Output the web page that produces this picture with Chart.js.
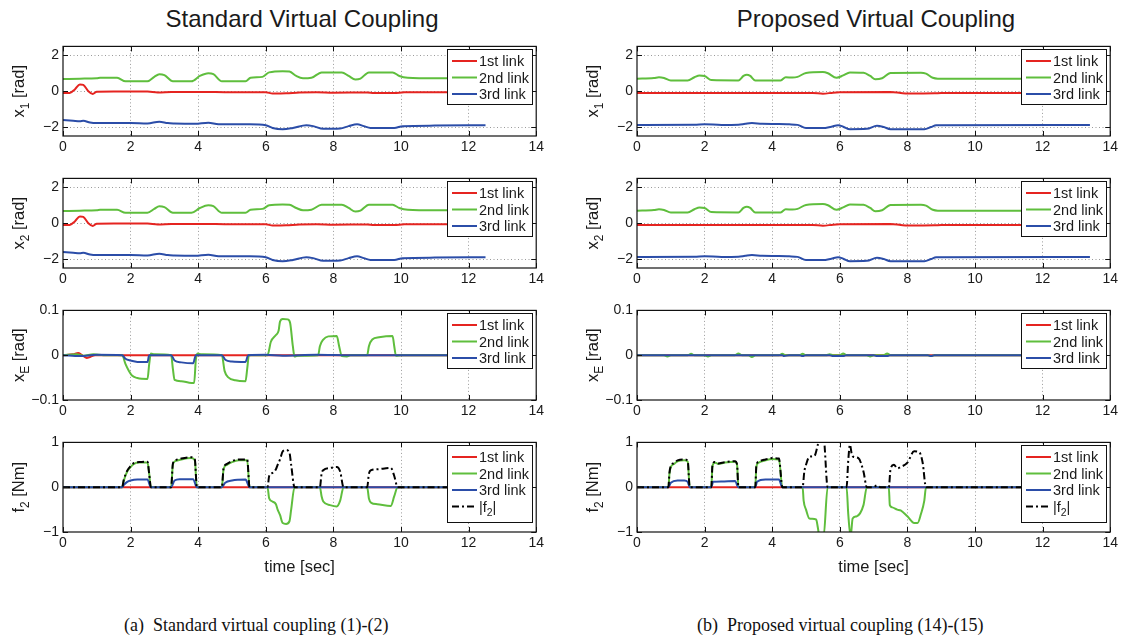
<!DOCTYPE html>
<html>
<head>
<meta charset="utf-8">
<script src="https://cdn.jsdelivr.net/npm/chart.js@4.4.0/dist/chart.umd.min.js"></script>
<style>
body { margin:0; background:#fff; width:1127px; height:639px; position:relative; overflow:hidden; font-family:'Liberation Sans', Arial, sans-serif; }
canvas { position:absolute; }
.title { position:absolute; font-size:24px; color:#1a1a1a; transform:translateX(-50%); white-space:nowrap; }
.cap { position:absolute; font-family:'Liberation Serif', 'Times New Roman', serif; font-size:18px; color:#111; white-space:pre; }
</style>
</head>
<body>
<div class="title" style="left:302px;top:5px">Standard Virtual Coupling</div>
<div class="title" style="left:876px;top:5px">Proposed Virtual Coupling</div>
<div class="cap" style="left:124px;top:615px">(a)  Standard virtual coupling (1)-(2)</div>
<div class="cap" style="left:697px;top:615px">(b)  Proposed virtual coupling (14)-(15)</div>
<script>
// ---- data (time [sec], value) ----
var xTicks = [0, 2, 4, 6, 8, 10, 12, 14];
var linkNames = ['1st link', '2nd link', '3rd link', '|f_2|'];
var linkColors = ['#e52420', '#5fbe3d', '#2b4da8', '#000000'];
var yLabels = ['x_1 [rad]', 'x_2 [rad]', 'x_E [rad]', 'f_2 [Nm]'];
var yRanges = [[-2.5, 2.5], [-2.5, 2.5], [-0.1, 0.1], [-1, 1]];
var yTicks = [[-2, 0, 2], [-2, 0, 2], [-0.1, 0, 0.1], [-1, 0, 1]];

// standard virtual coupling
var stdX1Link1 = [[0,-0.1],[0.2,-0.1],[0.35,0.1],[0.5,0.38],[0.6,0.35],[0.75,0.0],[0.88,-0.15],[1.0,-0.03],[1.5,-0.02],[2.5,-0.02],[2.8,-0.07],[3.2,-0.05],[4.0,-0.04],[5.0,-0.06],[6.0,-0.06],[6.2,-0.13],[6.6,-0.12],[7.0,-0.07],[7.5,-0.06],[8.0,-0.08],[9.0,-0.07],[9.2,-0.1],[9.8,-0.1],[10.1,-0.06],[12.5,-0.06]];
var stdX1Link2 = [[0,0.68],[0.5,0.7],[1.0,0.72],[1.1,0.75],[1.6,0.75],[1.85,0.55],[2.5,0.55],[2.7,0.8],[2.85,0.95],[3.0,0.9],[3.25,0.55],[3.8,0.55],[4.05,0.85],[4.3,1.0],[4.45,0.95],[4.7,0.55],[5.4,0.55],[5.55,0.75],[5.9,0.8],[6.1,1.05],[6.5,1.12],[6.7,1.1],[6.9,0.85],[7.1,0.72],[7.35,0.75],[7.65,1.05],[8.25,1.05],[8.45,0.85],[8.65,0.65],[8.8,0.7],[9.05,1.05],[9.75,1.05],[9.95,0.85],[10.2,0.75],[11,0.72],[12.5,0.72]];
var stdX1Link3 = [[0,-1.6],[0.3,-1.65],[0.5,-1.68],[0.6,-1.65],[0.8,-1.75],[1.0,-1.78],[1.5,-1.78],[2.0,-1.77],[2.5,-1.8],[2.85,-1.7],[3.1,-1.78],[3.3,-1.8],[3.9,-1.82],[4.3,-1.76],[4.6,-1.84],[5.5,-1.85],[6.0,-1.9],[6.2,-2.05],[6.5,-2.12],[6.8,-2.05],[7.2,-1.9],[7.4,-1.95],[7.7,-2.1],[8.2,-2.08],[8.45,-1.95],[8.7,-1.85],[8.9,-1.95],[9.1,-2.05],[9.8,-2.05],[10.05,-1.95],[11,-1.92],[12.5,-1.9]];

var stdX2Link1 = [[0,-0.1],[0.2,-0.1],[0.35,0.1],[0.5,0.38],[0.6,0.35],[0.75,0.0],[0.88,-0.15],[1.0,-0.03],[1.5,-0.02],[2.5,-0.02],[2.8,-0.07],[3.2,-0.05],[4.0,-0.04],[5.0,-0.06],[6.0,-0.06],[6.2,-0.13],[6.6,-0.12],[7.0,-0.07],[7.5,-0.06],[8.0,-0.08],[9.0,-0.07],[9.2,-0.1],[9.8,-0.1],[10.1,-0.06],[12.5,-0.06]];
var stdX2Link2 = [[0,0.68],[0.5,0.7],[1.0,0.72],[1.1,0.75],[1.6,0.75],[1.85,0.58],[2.5,0.58],[2.7,0.8],[2.85,0.95],[3.0,0.9],[3.25,0.58],[3.8,0.58],[4.05,0.85],[4.3,1.0],[4.45,0.95],[4.7,0.58],[5.4,0.58],[5.55,0.75],[5.9,0.8],[6.1,1.0],[6.5,1.05],[6.7,1.03],[6.9,0.85],[7.1,0.72],[7.35,0.75],[7.65,1.03],[8.25,1.03],[8.45,0.85],[8.65,0.65],[8.8,0.7],[9.05,1.03],[9.75,1.03],[9.95,0.85],[10.2,0.75],[11,0.72],[12.5,0.72]];
var stdX2Link3 = [[0,-1.6],[0.3,-1.65],[0.5,-1.68],[0.6,-1.65],[0.8,-1.75],[1.0,-1.78],[1.5,-1.78],[2.0,-1.77],[2.5,-1.8],[2.85,-1.7],[3.1,-1.78],[3.3,-1.8],[3.9,-1.82],[4.3,-1.76],[4.6,-1.84],[5.5,-1.85],[6.0,-1.9],[6.2,-2.05],[6.5,-2.12],[6.8,-2.05],[7.2,-1.9],[7.4,-1.95],[7.7,-2.1],[8.2,-2.08],[8.45,-1.95],[8.7,-1.85],[8.9,-1.95],[9.1,-2.05],[9.8,-2.05],[10.05,-1.95],[11,-1.92],[12.5,-1.9]];

var stdXELink1 = [[0,0],[0.3,0.002],[0.45,0.005],[0.55,0.001],[0.7,-0.006],[0.8,-0.004],[0.95,0],[12.5,0]];
var stdXELink2 = [[0,0],[0.4,0.002],[0.6,-0.001],[0.9,0.002],[1.2,0],[1.75,0],[1.85,-0.02],[1.95,-0.035],[2.05,-0.046],[2.2,-0.051],[2.5,-0.053],[2.55,-0.02],[2.6,0.004],[2.7,0.002],[3.2,0],[3.25,-0.03],[3.3,-0.055],[3.5,-0.058],[3.8,-0.062],[3.88,-0.062],[3.93,-0.01],[3.98,0.004],[4.1,0.002],[4.7,0],[4.78,-0.035],[4.9,-0.05],[5.1,-0.056],[5.4,-0.058],[5.45,-0.03],[5.5,0],[6.05,0],[6.15,0.03],[6.3,0.045],[6.38,0.055],[6.42,0.075],[6.5,0.081],[6.65,0.08],[6.72,0.072],[6.8,0.02],[6.85,-0.003],[6.95,-0.001],[7.55,0],[7.6,0.02],[7.7,0.035],[7.85,0.042],[8.1,0.043],[8.17,0.02],[8.25,-0.002],[8.4,-0.003],[8.5,0],[9.0,0],[9.05,0.02],[9.15,0.035],[9.35,0.04],[9.75,0.043],[9.8,0.02],[9.85,-0.001],[10,0],[12.5,0]];
var stdXELink3 = [[0,0],[0.5,-0.002],[1.0,0.001],[1.75,0],[1.85,-0.008],[2.0,-0.012],[2.2,-0.015],[2.5,-0.015],[2.55,0],[3.2,0],[3.3,-0.012],[3.5,-0.016],[3.85,-0.018],[3.93,0],[4.7,0],[4.8,-0.01],[5.0,-0.014],[5.4,-0.015],[5.48,0],[6.0,0.001],[6.5,-0.001],[7.5,0.001],[8.5,0],[12.5,0]];

var stdF2Link1 = [[0,0],[12.5,0]];
var stdF2Link2 = [[0,0],[1.75,0],[1.8,0.15],[1.9,0.35],[2.0,0.45],[2.1,0.52],[2.25,0.55],[2.5,0.55],[2.55,0.3],[2.6,0],[3.2,0],[3.25,0.5],[3.32,0.58],[3.5,0.62],[3.8,0.65],[3.9,0.6],[3.96,0],[4.7,0],[4.75,0.4],[4.85,0.5],[5.0,0.56],[5.2,0.6],[5.45,0.6],[5.52,0],[6.05,0],[6.1,-0.25],[6.2,-0.32],[6.3,-0.38],[6.35,-0.5],[6.42,-0.62],[6.5,-0.8],[6.6,-0.82],[6.7,-0.76],[6.75,-0.5],[6.85,0],[7.6,0],[7.65,-0.2],[7.7,-0.32],[7.9,-0.4],[8.1,-0.43],[8.2,-0.3],[8.3,0],[9.0,0],[9.05,-0.25],[9.12,-0.35],[9.3,-0.38],[9.7,-0.42],[9.8,-0.2],[9.9,0],[12.5,0]];
var stdF2Link3 = [[0,0],[1.75,0],[1.8,0.05],[1.9,0.12],[2.0,0.15],[2.2,0.17],[2.5,0.17],[2.6,0],[3.2,0],[3.3,0.15],[3.45,0.18],[3.85,0.18],[3.96,0],[4.7,0],[4.8,0.1],[5.0,0.15],[5.4,0.17],[5.52,0],[12.5,0]];
var stdF2Norm = [[0,0],[1.75,0],[1.8,0.17],[1.9,0.37],[2.0,0.47],[2.1,0.54],[2.25,0.56],[2.5,0.57],[2.55,0.3],[2.6,0],[3.2,0],[3.25,0.52],[3.32,0.6],[3.5,0.64],[3.8,0.67],[3.9,0.62],[3.96,0],[4.7,0],[4.75,0.42],[4.85,0.52],[5.0,0.58],[5.2,0.62],[5.45,0.62],[5.52,0],[6.05,0],[6.1,0.25],[6.2,0.32],[6.3,0.4],[6.35,0.5],[6.42,0.62],[6.5,0.8],[6.6,0.83],[6.7,0.77],[6.75,0.5],[6.85,0],[7.6,0],[7.65,0.3],[7.7,0.38],[7.9,0.43],[8.1,0.45],[8.2,0.35],[8.3,0],[9.0,0],[9.05,0.3],[9.12,0.38],[9.3,0.4],[9.7,0.43],[9.8,0.25],[9.9,0],[12.5,0]];

// proposed virtual coupling
var prpX1Link1 = [[0,-0.1],[5.2,-0.1],[5.5,-0.14],[5.8,-0.08],[6.0,-0.06],[7.5,-0.05],[7.8,-0.1],[8.0,-0.13],[8.8,-0.12],[9.0,-0.1],[13.4,-0.1]];
var prpX1Link2 = [[0,0.7],[0.5,0.73],[0.65,0.78],[0.8,0.74],[1.0,0.6],[1.5,0.6],[1.7,0.78],[1.85,0.88],[2.0,0.85],[2.2,0.62],[3.0,0.6],[3.15,0.85],[3.25,0.92],[3.35,0.85],[3.5,0.6],[4.25,0.6],[4.4,0.78],[4.6,0.76],[4.75,0.8],[5.0,1.02],[5.5,1.07],[5.65,1.0],[5.9,0.75],[6.1,0.88],[6.3,1.05],[6.7,1.03],[6.9,0.85],[7.05,0.66],[7.25,0.72],[7.5,1.02],[8.4,1.03],[8.55,0.98],[8.75,0.75],[8.9,0.7],[13.4,0.7]];
var prpX1Link3 = [[0,-1.88],[1.7,-1.87],[2.0,-1.84],[2.5,-1.88],[3.0,-1.87],[3.2,-1.82],[3.4,-1.78],[3.7,-1.82],[4.2,-1.83],[4.5,-1.85],[4.75,-1.88],[5.0,-2.06],[5.5,-2.06],[5.75,-1.98],[5.95,-1.9],[6.1,-1.98],[6.3,-2.12],[6.8,-2.1],[7.1,-1.93],[7.3,-2.0],[7.5,-2.12],[8.5,-2.12],[8.7,-2.0],[8.85,-1.9],[13.4,-1.88]];

var prpX2Link1 = [[0,-0.1],[5.2,-0.1],[5.5,-0.14],[5.8,-0.08],[6.0,-0.06],[7.5,-0.05],[7.8,-0.1],[8.0,-0.13],[8.8,-0.12],[9.0,-0.1],[13.4,-0.1]];
var prpX2Link2 = [[0,0.7],[0.5,0.73],[0.65,0.78],[0.8,0.74],[1.0,0.6],[1.5,0.6],[1.7,0.78],[1.85,0.88],[2.0,0.85],[2.2,0.62],[3.0,0.6],[3.15,0.85],[3.25,0.92],[3.35,0.85],[3.5,0.6],[4.25,0.6],[4.4,0.78],[4.6,0.76],[4.75,0.8],[5.0,1.02],[5.5,1.07],[5.65,1.0],[5.9,0.75],[6.1,0.88],[6.3,1.05],[6.7,1.03],[6.9,0.85],[7.05,0.66],[7.25,0.72],[7.5,1.02],[8.4,1.03],[8.55,0.98],[8.75,0.75],[8.9,0.7],[13.4,0.7]];
var prpX2Link3 = [[0,-1.88],[1.7,-1.87],[2.0,-1.84],[2.5,-1.88],[3.0,-1.87],[3.2,-1.82],[3.4,-1.78],[3.7,-1.82],[4.2,-1.83],[4.5,-1.85],[4.75,-1.88],[5.0,-2.06],[5.5,-2.06],[5.75,-1.98],[5.95,-1.9],[6.1,-1.98],[6.3,-2.12],[6.8,-2.1],[7.1,-1.93],[7.3,-2.0],[7.5,-2.12],[8.5,-2.12],[8.7,-2.0],[8.85,-1.9],[13.4,-1.88]];

var prpXELink1 = [[0,0],[13.4,0]];
var prpXELink2 = [[0,0],[0.8,0],[0.9,-0.003],[1.0,0],[1.5,0],[1.6,0.003],[1.7,0],[2.0,0],[2.1,-0.003],[2.2,0],[2.9,0],[3.0,0.004],[3.1,0],[3.3,0],[3.4,-0.004],[3.5,0],[4.2,0],[4.3,0.003],[4.4,0],[4.8,0],[4.9,0.003],[5.0,0],[5.6,0],[5.7,0.002],[5.8,0],[6.0,0],[6.1,0.004],[6.2,0],[6.8,0],[6.9,-0.003],[7.0,0],[7.3,0],[7.4,0.004],[7.5,0],[8.6,0],[8.7,-0.002],[8.8,0],[13.4,0]];
var prpXELink3 = [[0,0],[4.3,0],[4.35,-0.002],[4.5,0],[4.8,0],[4.9,-0.002],[5.0,0],[5.7,0],[5.8,-0.002],[6.1,-0.002],[6.2,0],[7.0,0],[7.1,-0.002],[7.4,-0.002],[7.5,0],[8.6,0],[8.7,-0.002],[8.8,0],[13.4,0]];

var prpF2Link1 = [[0,0],[13.4,0]];
var prpF2Link2 = [[0,0],[0.93,0],[0.96,0.3],[1.0,0.45],[1.1,0.52],[1.2,0.58],[1.4,0.6],[1.5,0.57],[1.56,0],[2.2,0],[2.23,0.45],[2.3,0.55],[2.4,0.52],[2.6,0.55],[2.9,0.57],[2.96,0.5],[3.0,0],[3.5,0],[3.53,0.45],[3.6,0.55],[3.8,0.6],[4.0,0.63],[4.2,0.62],[4.3,0],[4.9,0],[4.93,-0.3],[5.0,-0.5],[5.1,-0.7],[5.3,-0.72],[5.35,-0.9],[5.4,-1.1],[5.52,-1.1],[5.64,0],[6.2,0],[6.25,-0.6],[6.32,-1.1],[6.38,-0.7],[6.5,-0.65],[6.7,-0.4],[6.8,0],[7.45,0],[7.48,-0.4],[7.55,-0.45],[7.7,-0.5],[7.8,-0.52],[8.0,-0.65],[8.2,-0.8],[8.3,-0.8],[8.4,-0.6],[8.5,-0.3],[8.55,0],[13.4,0]];
var prpF2Link3 = [[0,0],[0.93,0],[1.0,0.1],[1.2,0.15],[1.4,0.15],[1.5,0.12],[1.56,0],[2.2,0],[2.25,0.12],[2.5,0.13],[2.9,0.14],[3.0,0],[3.5,0],[3.55,0.12],[3.8,0.17],[4.2,0.17],[4.3,0],[13.4,0]];
var prpF2Norm = [[0,0],[0.93,0],[0.96,0.32],[1.0,0.47],[1.1,0.54],[1.2,0.6],[1.4,0.62],[1.5,0.59],[1.56,0],[2.2,0],[2.23,0.47],[2.3,0.56],[2.4,0.53],[2.6,0.56],[2.9,0.58],[2.96,0.51],[3.0,0],[3.5,0],[3.53,0.47],[3.6,0.57],[3.8,0.62],[4.0,0.65],[4.2,0.64],[4.3,0],[4.9,0],[4.95,0.35],[5.0,0.5],[5.1,0.68],[5.25,0.7],[5.35,0.95],[5.4,1.1],[5.52,1.1],[5.64,0],[6.2,0],[6.25,0.6],[6.3,0.95],[6.35,0.75],[6.4,0.68],[6.55,0.65],[6.7,0.35],[6.8,0],[7.0,0],[7.1,0.04],[7.2,0],[7.45,0],[7.5,0.4],[7.6,0.5],[7.7,0.42],[7.8,0.45],[8.0,0.55],[8.2,0.8],[8.35,0.78],[8.45,0.55],[8.55,0],[13.4,0]];

var panels = [
  [[stdX1Link1, stdX1Link2, stdX1Link3], [prpX1Link1, prpX1Link2, prpX1Link3]],
  [[stdX2Link1, stdX2Link2, stdX2Link3], [prpX2Link1, prpX2Link2, prpX2Link3]],
  [[stdXELink1, stdXELink2, stdXELink3], [prpXELink1, prpXELink2, prpXELink3]],
  [[stdF2Link1, stdF2Link2, stdF2Link3, stdF2Norm], [prpF2Link1, prpF2Link2, prpF2Link3, prpF2Norm]]
];

// ---- layout ----
var FONT = "'Liberation Sans', Arial, sans-serif";
var colLeft = [63, 637];
var rowTop = [40, 172, 304, 436];
var boxW = 478, boxH = 96, padL = 62, padT = 6, padR = 6;

// "x_1 [rad]" -> pieces with subscript
function splitSub(s) {
  var m = s.match(/^(.*?)_(.)(.*)$/);
  if (!m) return [{t: s}];
  return [{t: m[1]}, {t: m[2], sub: true}, {t: m[3]}];
}

function partsWidth(ctx, parts, size) {
  var w = 0;
  parts.forEach(function(p) {
    ctx.font = (p.sub ? size * 0.72 : size) + 'px ' + FONT;
    w += ctx.measureText(p.t).width;
  });
  return w;
}

function drawParts(ctx, parts, x, y, size) {
  var cx = x;
  parts.forEach(function(p) {
    ctx.font = (p.sub ? size * 0.72 : size) + 'px ' + FONT;
    ctx.fillText(p.t, cx, y + (p.sub ? size * 0.32 : 0));
    cx += ctx.measureText(p.t).width;
  });
}

var axesBox = {
  id: 'axesBox',
  afterDatasetsDraw: function(chart, args, opts) {
    var ctx = chart.ctx, a = chart.chartArea;
    var xs = chart.scales.x, ys = chart.scales.y;
    ctx.save();
    ctx.strokeStyle = '#111';
    ctx.lineWidth = 1.2;
    ctx.setLineDash([]);
    ctx.strokeRect(a.left, a.top, a.right - a.left, a.bottom - a.top);
    ctx.lineWidth = 1;
    ctx.beginPath();
    xTicks.forEach(function(v) {
      var px = Math.round(xs.getPixelForValue(v)) + 0.5;
      ctx.moveTo(px, a.bottom); ctx.lineTo(px, a.bottom - 5);
      ctx.moveTo(px, a.top); ctx.lineTo(px, a.top + 5);
    });
    opts.yTicks.forEach(function(v) {
      var py = Math.round(ys.getPixelForValue(v)) + 0.5;
      ctx.moveTo(a.left, py); ctx.lineTo(a.left + 5, py);
      ctx.moveTo(a.right, py); ctx.lineTo(a.right - 5, py);
    });
    ctx.stroke();

    // legend, inside the top right corner
    var dsets = chart.data.datasets;
    var n = dsets.length;
    var lw = 85, lh = n === 4 ? 77 : 55;
    var lx = Math.round(a.right - 4 - lw), ly = Math.round(a.top + 3);
    ctx.fillStyle = '#fff';
    ctx.fillRect(lx, ly, lw, lh);
    ctx.strokeStyle = '#111';
    ctx.lineWidth = 1;
    ctx.strokeRect(lx + 0.5, ly + 0.5, lw, lh);
    dsets.forEach(function(ds, i) {
      var cy = ly + 12 + i * 16.5;
      ctx.strokeStyle = ds.borderColor;
      ctx.lineWidth = 2;
      ctx.setLineDash(ds.borderDash || []);
      ctx.beginPath();
      ctx.moveTo(lx + 5, cy); ctx.lineTo(lx + 30, cy);
      ctx.stroke();
      ctx.setLineDash([]);
      ctx.fillStyle = '#1a1a1a';
      ctx.textBaseline = 'alphabetic';
      ctx.textAlign = 'left';
      drawParts(ctx, splitSub(ds.label), lx + 32, cy + 5, 14.5);
    });

    // y axis title, rotated, with subscript
    var parts = splitSub(opts.yTitle);
    var w = partsWidth(ctx, parts, 16.5);
    ctx.translate(a.left - 43, (a.top + a.bottom) / 2);
    ctx.rotate(-Math.PI / 2);
    ctx.fillStyle = '#1a1a1a';
    drawParts(ctx, parts, -w / 2, 4, 16.5);
    ctx.restore();
  }
};

function makePanel(row, col) {
  var series = panels[row][col];
  var last = row === 3;
  var cv = document.createElement('canvas');
  var W = padL + boxW + padR;
  var H = padT + boxH + (last ? 45 : 24);
  cv.width = W; cv.height = H;
  cv.style.left = (colLeft[col] - padL) + 'px';
  cv.style.top = (rowTop[row] - padT) + 'px';
  document.body.appendChild(cv);

  var dataSets = series.map(function(pts, i) {
    return {
      label: linkNames[i],
      data: pts.map(function(p) { return {x: p[0], y: p[1]}; }),
      borderColor: linkColors[i],
      borderWidth: 2,
      borderDash: i === 3 ? [7, 3, 2, 3] : undefined,
      pointRadius: 0,
      cubicInterpolationMode: 'monotone',
      order: 4 - i
    };
  });

  var edge = function(c) {
    var v = c.tick.value, s = c.scale;
    return (Math.abs(v - s.min) < 1e-9 || Math.abs(v - s.max) < 1e-9) ? 'rgba(0,0,0,0)' : '#9a9a9a';
  };

  new Chart(cv, {
    type: 'line',
    data: {datasets: dataSets},
    options: {
      responsive: false,
      animation: false,
      devicePixelRatio: 1,
      layout: {padding: {top: padT, right: padR, left: 0, bottom: 0}},
      plugins: {
        legend: {display: false},
        tooltip: {enabled: false},
        axesBox: {yTicks: yTicks[row], yTitle: yLabels[row]}
      },
      scales: {
        x: {
          type: 'linear', min: 0, max: 14,
          afterBuildTicks: function(s) { s.ticks = xTicks.map(function(v) { return {value: v}; }); },
          afterFit: function(s) { s.height = last ? 45 : 24; },
          grid: {drawTicks: false, color: edge, lineWidth: 1},
          border: {display: false, dash: [1, 2.5]},
          ticks: {color: '#1a1a1a', font: {family: FONT, size: 14}, padding: 3, maxRotation: 0, autoSkip: false},
          title: {display: last, text: 'time [sec]', color: '#1a1a1a', font: {family: FONT, size: 16.5, lineHeight: 1.2}, padding: {top: 0, bottom: 0}}
        },
        y: {
          type: 'linear', min: yRanges[row][0], max: yRanges[row][1],
          afterBuildTicks: function(s) { s.ticks = yTicks[row].map(function(v) { return {value: v}; }); },
          afterFit: function(s) { s.width = padL; },
          grid: {drawTicks: false, color: edge, lineWidth: 1},
          border: {display: false, dash: [1, 2.5]},
          ticks: {
            color: '#1a1a1a', font: {family: FONT, size: 14}, padding: 4,
            callback: function(v) { return String(v).replace('-', '\u2212'); }
          }
        }
      }
    },
    plugins: [axesBox]
  });
}

for (var r = 0; r < 4; r++) {
  for (var c = 0; c < 2; c++) makePanel(r, c);
}
</script>
</body>
</html>
